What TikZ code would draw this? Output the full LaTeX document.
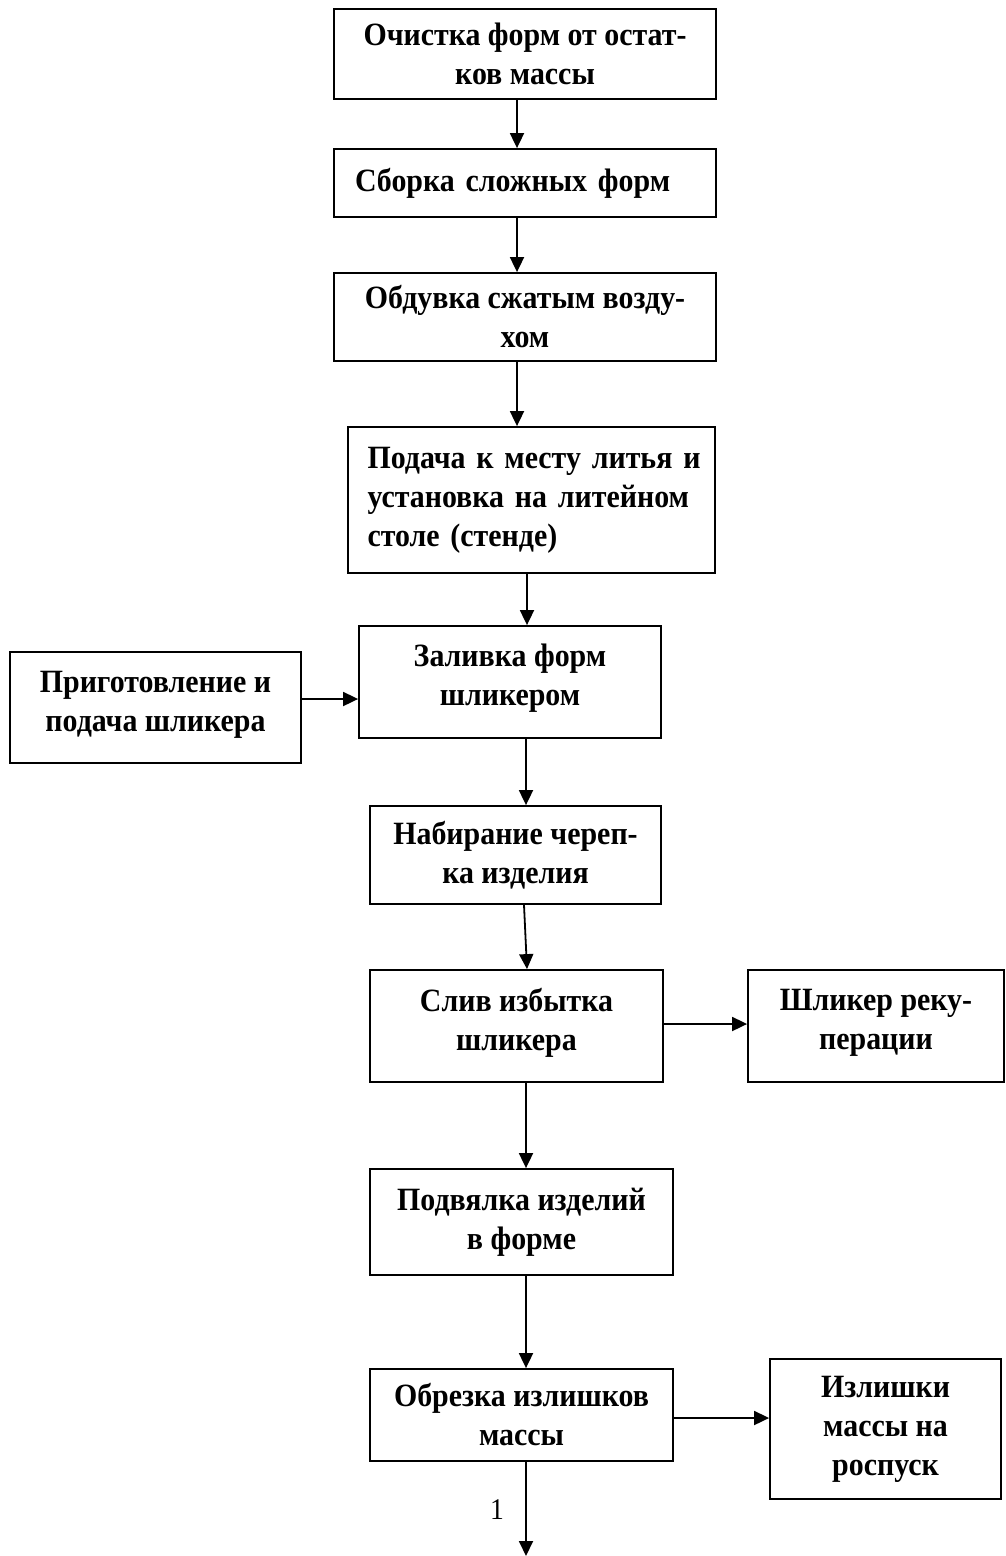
\documentclass[tikz,border=0pt]{standalone}
\usepackage{fontspec}
\setmainfont[FakeStretch=0.92]{Liberation Serif}
\usetikzlibrary{arrows.meta}
\begin{document}
\begin{tikzpicture}[x=1pt,y=-1pt,>={Triangle[length=15pt,width=14pt]},
    box/.style={draw,line width=1.8pt,align=center,inner sep=0pt,font=\fontsize{32.5}{39}\selectfont\bfseries},
    arr/.style={->,line width=1.8pt}]
\useasboundingbox (0,0) rectangle (1005,1556);
% main column
\node[box,minimum width=382pt,minimum height=90pt] (clean) at (525,54) {Очистка форм от остат-\\ков массы};
\node[box,align=left,text width=340pt,inner xsep=21pt,minimum height=68pt] (assem) at (525,183) {Сборка сложных форм};
\node[box,minimum width=382pt,minimum height=88pt] (blow) at (525,317) {Обдувка сжатым возду-\\хом};
\node[box,align=left,text width=328pt,inner xsep=19.5pt,minimum height=146pt] (feed) at (531.5,500)
    {\makebox[\linewidth][s]{Подача к месту литья и}\\\makebox[\linewidth][s]{установка на литейном}\\столе (стенде)};
\node[box,minimum width=302pt,minimum height=112pt] (cast) at (510,682) {Заливка форм\\шликером\\[-25pt]};
\node[box,minimum width=291pt,minimum height=98pt] (shell) at (515.5,855) {Набирание череп-\\ка изделия};
\node[box,minimum width=293pt,minimum height=112pt] (drain) at (516.5,1026) {Слив избытка\\шликера\\[-25pt]};
\node[box,minimum width=303pt,minimum height=106pt] (dry) at (521.5,1222) {Подвялка изделий\\в форме};
\node[box,minimum width=303pt,minimum height=92pt] (trim) at (521.5,1415) {Обрезка излишков\\массы};
% side boxes
\node[box,minimum width=291pt,minimum height=111pt] (slip) at (155.5,707.5) {Приготовление и\\подача шликера\\[-27pt]};
\node[box,minimum width=256pt,minimum height=112pt] (recup) at (876,1026) {Шликер реку-\\перации\\[-25pt]};
\node[box,minimum width=231pt,minimum height=140pt] (waste) at (885.5,1429) {Излишки\\массы на\\роспуск};
\coordinate (out) at (526,1556);
\node[font=\fontsize{30}{36}\selectfont] (one) at (497,1510) {1};
% arrows
\draw[arr] ([xshift=-8pt]clean.south) -- ([xshift=-8pt]assem.north);
\draw[arr] ([xshift=-8pt]assem.south) -- ([xshift=-8pt]blow.north);
\draw[arr] ([xshift=-8pt]blow.south) -- ([xshift=-14.5pt]feed.north);
\draw[arr] ([xshift=-4.5pt]feed.south) -- ([xshift=17pt]cast.north);
\draw[arr] ([yshift=8.5pt]slip.east) -- ([yshift=-17pt]cast.west);
\draw[arr] ([xshift=16pt]cast.south) -- ([xshift=10.5pt]shell.north);
\draw[arr] ([xshift=8.5pt]shell.south) -- ([xshift=10.5pt]drain.north);
\draw[arr] ([yshift=2pt]drain.east) -- ([yshift=2pt]recup.west);
\draw[arr] ([xshift=9.5pt]drain.south) -- ([xshift=4.5pt]dry.north);
\draw[arr] ([xshift=4.5pt]dry.south) -- ([xshift=4.5pt]trim.north);
\draw[arr] ([yshift=-3pt]trim.east) -- ([yshift=11pt]waste.west);
\draw[arr] ([xshift=4.5pt]trim.south) -- (out);
\end{tikzpicture}
\end{document}
